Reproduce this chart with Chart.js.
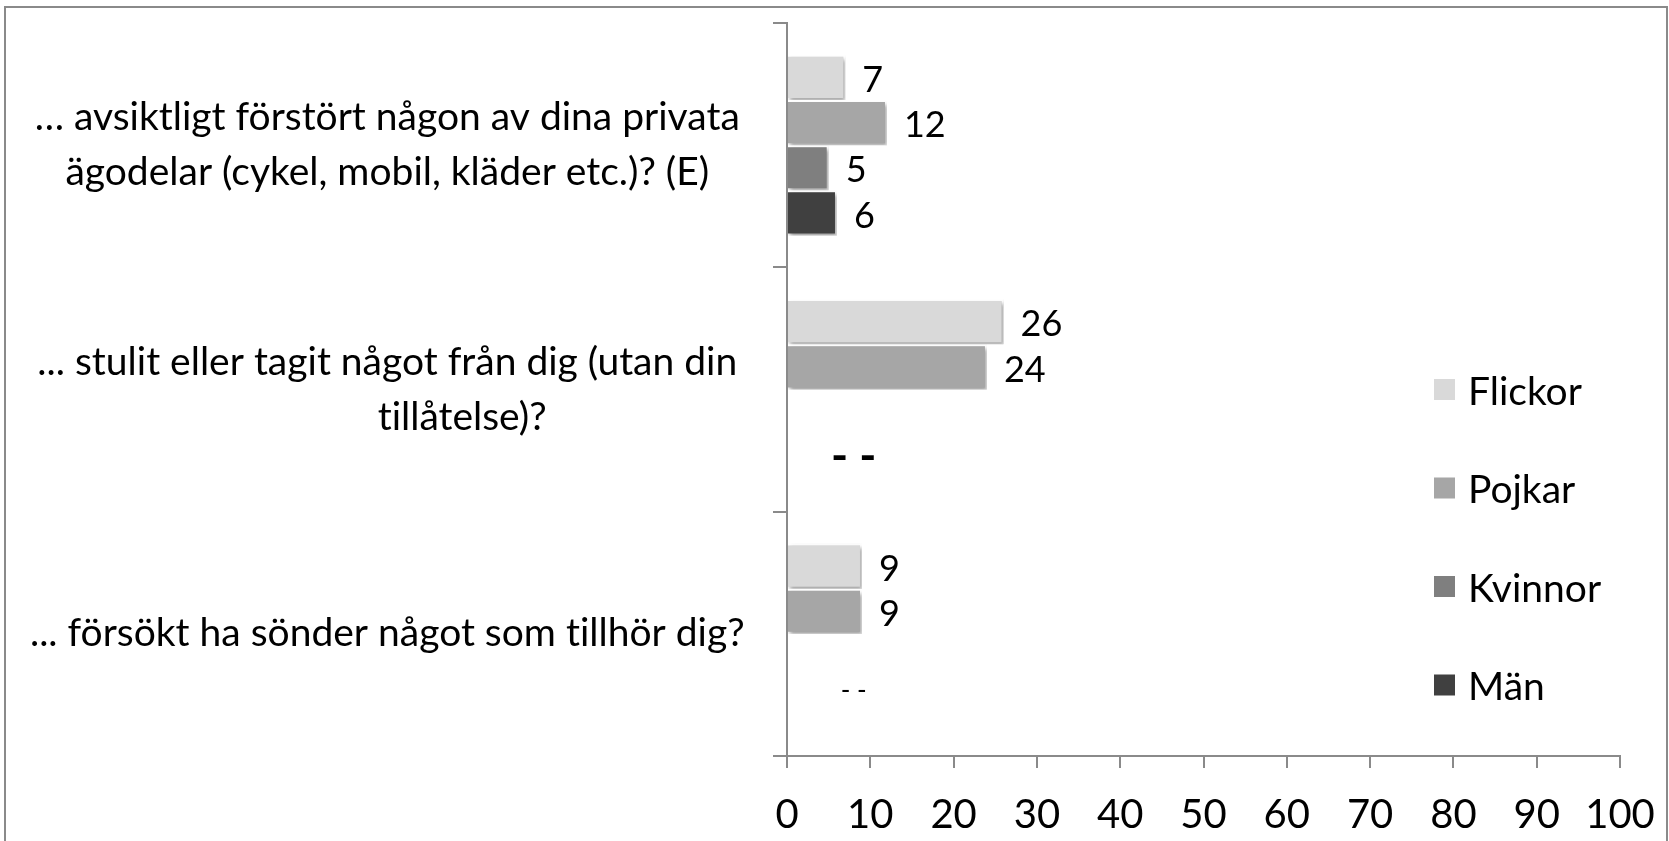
<!DOCTYPE html>
<html>
<head>
<meta charset="utf-8">
<script src="https://cdn.jsdelivr.net/npm/chart.js@4.4.1/dist/chart.umd.min.js"></script>
<style>
  html, body { margin: 0; padding: 0; background: #fff; overflow: hidden; }
</style>
</head>
<body>
<canvas id="chart" width="1669" height="841"></canvas>
<script>
// kategorier (frågor)
const categories = [
    ["… avsiktligt förstört någon av dina privata", "ägodelar (cykel, mobil, kläder etc.)? (E)"],
    ["... stulit eller tagit något från dig (utan din", "               tillåtelse)?"],
    "... försökt ha sönder något som tillhör dig?"
];

// procent per grupp
const flickor = [7, 26, 9];
const pojkar  = [12, 24, 9];
const kvinnor = [5, null, null];
const man     = [6, null, null];

const seriesNames = ["Flickor", "Pojkar", "Kvinnor", "Män"];
const seriesColors = ["#d9d9d9", "#a6a6a6", "#7f7f7f", "#404040"];

// markering där kvinnor/män saknar värde
const missingMarks = ["", "- -", "- -"];
const missingValue = 8;

const FONT = "Lato";

const frame = {
    id: "frame",
    beforeDraw(chart) {
        const ctx = chart.ctx;
        ctx.textRendering = "optimizeSpeed"; // inga ligaturer
        ctx.save();
        ctx.strokeStyle = "#8a8a8a";
        ctx.lineWidth = 2;
        ctx.strokeRect(5, 7, 1662, 900);
        ctx.restore();
    }
};

const barShadow = {
    id: "barShadow",
    beforeDatasetsDraw(chart) {
        const ctx = chart.ctx;
        ctx.save();
        ctx.shadowColor = "rgba(0,0,0,0.35)";
        ctx.shadowBlur = 4;
        ctx.shadowOffsetX = 2;
        ctx.shadowOffsetY = 3;
    },
    afterDatasetsDraw(chart) {
        chart.ctx.restore();
    }
};

const valueLabels = {
    id: "valueLabels",
    afterDatasetsDraw(chart) {
        const ctx = chart.ctx;
        ctx.save();
        ctx.fillStyle = "#000";
        ctx.textAlign = "left";
        ctx.textBaseline = "middle";
        ctx.font = "36px " + FONT;
        chart.data.datasets.forEach((ds, i) => {
            const meta = chart.getDatasetMeta(i);
            meta.data.forEach((bar, j) => {
                const v = ds.data[j];
                if (v === null || v === undefined) return;
                ctx.fillText(String(v), bar.x + 17, bar.y + 3);
            });
        });
        // streck för saknade värden
        const xs = chart.scales.x;
        const kv = chart.getDatasetMeta(2).data;
        const mn = chart.getDatasetMeta(3).data;
        ctx.textAlign = "center";
        missingMarks.forEach((m, j) => {
            if (!m) return;
            if (j === 1) {
                ctx.font = "bold 46px " + FONT;
                ctx.fillText(m, xs.getPixelForValue(missingValue), mn[j].y);
            } else {
                ctx.font = "26px " + FONT;
                ctx.fillText(m, xs.getPixelForValue(missingValue), kv[j].y + (mn[j].y - kv[j].y) * 0.75);
            }
        });
        ctx.restore();
    }
};

const sideLegend = {
    id: "sideLegend",
    afterDraw(chart) {
        const ctx = chart.ctx;
        ctx.save();
        ctx.font = "39px " + FONT;
        ctx.textBaseline = "middle";
        ctx.textAlign = "left";
        chart.data.datasets.forEach((ds, i) => {
            const y = 390 + i * 98.5;
            ctx.fillStyle = ds.backgroundColor;
            ctx.fillRect(1434, y - 11, 21, 21);
            ctx.fillStyle = "#000";
            ctx.fillText(ds.label, 1468, y + 2);
        });
        ctx.restore();
    }
};

const values = [flickor, pojkar, kvinnor, man];

new Chart(document.getElementById("chart"), {
    type: "bar",
    data: {
        labels: categories,
        datasets: seriesNames.map((name, i) => ({
            label: name,
            data: values[i],
            backgroundColor: seriesColors[i],
            borderColor: "#ffffff",
            borderWidth: 2,
            barPercentage: 1,
            categoryPercentage: 0.74,
        })),
    },
    options: {
        indexAxis: "y",
        responsive: false,
        animation: false,
        layout: { padding: { top: 23, right: 49, bottom: 5, left: 0 } },
        plugins: {
            legend: { display: false },
            tooltip: { enabled: false },
        },
        scales: {
            x: {
                min: 0,
                max: 100,
                ticks: {
                    stepSize: 10,
                    color: "#000",
                    padding: 23,
                    font: { family: FONT, size: 40 },
                    maxRotation: 0,
                },
                grid: { drawOnChartArea: false, tickLength: 12, color: "#8a8a8a", lineWidth: 2 },
                border: { color: "#8a8a8a", width: 2 },
                afterFit(scale) {
                    scale.height = 80;
                    scale.paddingLeft = 0;
                    scale.paddingRight = 0;
                },
            },
            y: {
                ticks: {
                    color: "#000",
                    padding: 28,
                    crossAlign: "center",
                    font: { family: FONT, size: 39, lineHeight: "55px" },
                },
                grid: { offset: true, drawOnChartArea: false, tickLength: 14, color: "#8a8a8a", lineWidth: 2 },
                border: { color: "#8a8a8a", width: 2 },
                afterFit(scale) {
                    scale.width = 787;
                    scale.paddingTop = 0;
                    scale.paddingBottom = 0;
                },
            },
        },
    },
    plugins: [frame, barShadow, valueLabels, sideLegend],
});
</script>
</body>
</html>
